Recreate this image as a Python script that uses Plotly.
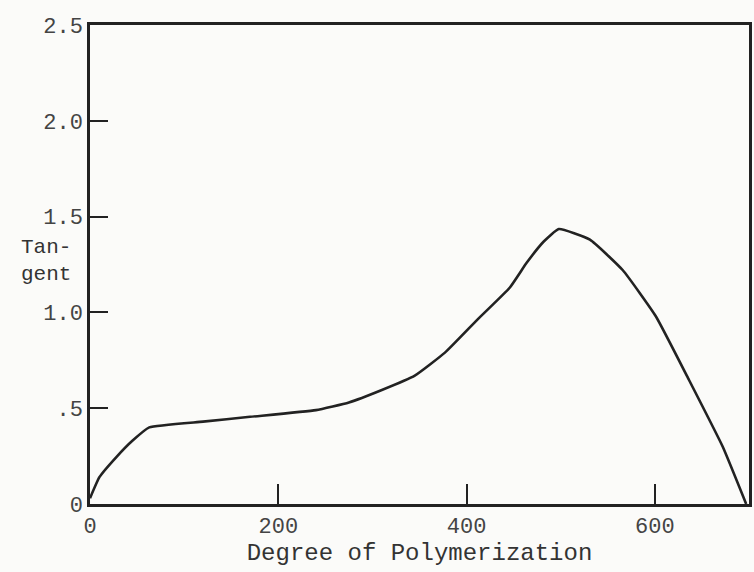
import plotly.graph_objects as go

# Data
dp = [0, 10, 28, 45, 63, 120, 170, 240, 275, 310, 345, 377, 411, 446, 464, 482, 498,
      531, 566, 601, 636, 672, 697]
tangent = [0.03, 0.14, 0.245, 0.33, 0.40, 0.43, 0.455, 0.49, 0.53, 0.595, 0.67, 0.79,
           0.96, 1.13, 1.26, 1.37, 1.435, 1.38, 1.22, 0.98, 0.65, 0.30, 0.0]

x_tickvals = [0, 200, 400, 600]
x_ticktext = ["0", "200", "400", "600"]
y_tickvals = [0, 0.5, 1.0, 1.5, 2.0, 2.5]
y_ticktext = ["0", ".5", "1.0", "1.5", "2.0", "2.5"]

ink = "#222222"
font_family = "Liberation Mono, DejaVu Sans Mono, monospace"

fig = go.Figure()
fig.add_trace(go.Scatter(
    x=dp, y=tangent, mode="lines",
    line=dict(color=ink, width=2.6, shape="spline", smoothing=0.4),
    showlegend=False, hoverinfo="skip",
))

fig.update_layout(
    width=754, height=572,
    margin=dict(l=90, r=2, t=25, b=68),
    paper_bgcolor="#fbfbf9", plot_bgcolor="#fbfbf9",
    font=dict(family=font_family, color="#333333", size=21),
    xaxis=dict(
        range=[0, 700], tickvals=x_tickvals, ticktext=x_ticktext,
        ticks="inside", ticklen=20, tickwidth=2, tickcolor=ink,
        showline=True, mirror=True, linewidth=2.5, linecolor=ink,
        showgrid=False, zeroline=False,
        tickfont=dict(size=22, family=font_family, color="#444444"),
        title=dict(text="Degree of Polymerization", standoff=4,
                   font=dict(size=24, family=font_family, color="#333333")),
    ),
    yaxis=dict(
        range=[0, 2.5], tickvals=y_tickvals, ticktext=y_ticktext,
        ticks="inside", ticklen=18, tickwidth=2, tickcolor=ink,
        showline=True, mirror=True, linewidth=2.5, linecolor=ink,
        showgrid=False, zeroline=False,
        tickfont=dict(size=22, family=font_family, color="#444444"),
    ),
    annotations=[dict(
        text="Tan-<br>gent", xref="paper", yref="y", x=-0.026, y=1.27,
        xanchor="right", yanchor="middle", showarrow=False, align="left",
        font=dict(size=21, family=font_family, color="#333333"),
    )],
)

fig.write_html(
    "out.html",
    config={"displayModeBar": False},
    post_script="document.body.style.margin='0';document.body.style.background='#fbfbf9';",
)
